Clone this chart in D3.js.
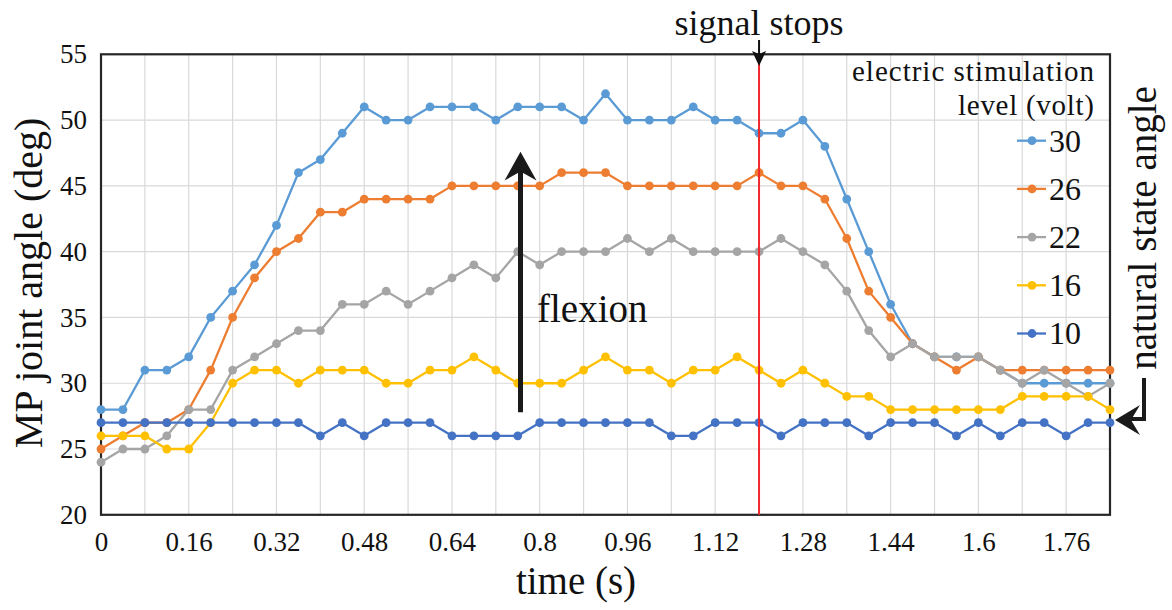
<!DOCTYPE html>
<html>
<head>
<meta charset="utf-8">
<script src="https://cdn.jsdelivr.net/npm/d3@7"></script>
<style>
  body { margin: 0; background: #fff; }
  svg text { font-family: "Liberation Serif", "Times New Roman", serif !important; fill: #111; }
</style>
</head>
<body>
<div id="chart"></div>
<script>
// time categories (s), one sample every 0.04 s
const times = [0, 0.04, 0.08, 0.12, 0.16, 0.2, 0.24, 0.28, 0.32, 0.36, 0.4, 0.44,
  0.48, 0.52, 0.56, 0.6, 0.64, 0.68, 0.72, 0.76, 0.8, 0.84, 0.88, 0.92, 0.96,
  1.0, 1.04, 1.08, 1.12, 1.16, 1.2, 1.24, 1.28, 1.32, 1.36, 1.4, 1.44, 1.48,
  1.52, 1.56, 1.6, 1.64, 1.68, 1.72, 1.76, 1.8, 1.84];
const gridTimes = [0, 0.08, 0.16, 0.24, 0.32, 0.4, 0.48, 0.56, 0.64, 0.72, 0.8,
  0.88, 0.96, 1.04, 1.12, 1.2, 1.28, 1.36, 1.44, 1.52, 1.6, 1.68, 1.76, 1.84];
const tickTimes = [0, 0.16, 0.32, 0.48, 0.64, 0.8, 0.96, 1.12, 1.28, 1.44, 1.6, 1.76];
const tickLabels = ["0", "0.16", "0.32", "0.48", "0.64", "0.8", "0.96", "1.12", "1.28", "1.44", "1.6", "1.76"];
const yTicks = [20, 25, 30, 35, 40, 45, 50, 55];

// MP joint angle (deg) per stimulation level (volt)
const levels = ["30", "26", "22", "16", "10"];
const angle30 = [28, 28, 31, 31, 32, 35, 37, 39, 42, 46, 47, 49, 51, 50, 50, 51, 51, 51, 50, 51, 51, 51, 50, 52,
  50, 50, 50, 51, 50, 50, 49, 49, 50, 48, 44, 40, 36, 33, 32, 32, 32, 31, 30, 30, 30, 30, 30];
const angle26 = [25, 26, 27, 27, 28, 31, 35, 38, 40, 41, 43, 43, 44, 44, 44, 44, 45, 45, 45, 45, 45, 46, 46, 46,
  45, 45, 45, 45, 45, 45, 46, 45, 45, 44, 41, 37, 35, 33, 32, 31, 32, 31, 31, 31, 31, 31, 31];
const angle22 = [24, 25, 25, 26, 28, 28, 31, 32, 33, 34, 34, 36, 36, 37, 36, 37, 38, 39, 38, 40, 39, 40, 40, 40,
  41, 40, 41, 40, 40, 40, 40, 41, 40, 39, 37, 34, 32, 33, 32, 32, 32, 31, 30, 31, 30, 29, 30];
const angle16 = [26, 26, 26, 25, 25, 27, 30, 31, 31, 30, 31, 31, 31, 30, 30, 31, 31, 32, 31, 30, 30, 30, 31, 32,
  31, 31, 30, 31, 31, 32, 31, 30, 31, 30, 29, 29, 28, 28, 28, 28, 28, 28, 29, 29, 29, 29, 28];
const angle10 = [27, 27, 27, 27, 27, 27, 27, 27, 27, 27, 26, 27, 26, 27, 27, 27, 26, 26, 26, 26, 27, 27, 27, 27,
  27, 27, 26, 26, 27, 27, 27, 26, 27, 27, 27, 26, 27, 27, 27, 26, 27, 26, 27, 27, 26, 27, 27];
const seriesValues = [angle30, angle26, angle22, angle16, angle10];
const colors = ["#5B9BD5", "#ED7D31", "#A5A5A5", "#FFC000", "#4472C4"];

const signalStop = 1.2;
const SERIF = "'Liberation Serif', 'Times New Roman', serif";

var width = 1172, height = 610;
var plot = { left: 101, right: 1110, top: 54.3, bottom: 514.8 };

var svg = d3.select("#chart")
  .append("svg")
  .attr("width", width)
  .attr("height", height)
  .style("font-family", SERIF);

var x = d3.scaleLinear().domain([0, 1.84]).range([plot.left, plot.right]);
var y = d3.scaleLinear().domain([20, 55]).range([plot.bottom, plot.top]);

function label(sel) {
  // force the serif face on every text
  return sel.style("font-family", SERIF).attr("fill", "#111");
}

// gridlines
svg.append("g")
  .selectAll("line")
  .data(gridTimes)
  .enter()
  .append("line")
  .attr("x1", (d) => x(d)).attr("x2", (d) => x(d))
  .attr("y1", plot.top).attr("y2", plot.bottom)
  .attr("stroke", "#D9D9D9").attr("stroke-width", 1.2);

svg.append("g")
  .selectAll("line")
  .data(yTicks)
  .enter()
  .append("line")
  .attr("x1", plot.left).attr("x2", plot.right)
  .attr("y1", (d) => y(d)).attr("y2", (d) => y(d))
  .attr("stroke", "#D9D9D9").attr("stroke-width", 1.2);

// axes
var yAxis = svg.append("g")
  .attr("transform", "translate(" + plot.left + ",0)")
  .call(d3.axisLeft(y).tickValues(yTicks).tickSize(0).tickPadding(14));
yAxis.attr("font-family", null);
yAxis.select(".domain").remove();
label(yAxis.selectAll("text")).attr("font-size", 27);

var xAxis = svg.append("g")
  .attr("transform", "translate(0," + plot.bottom + ")")
  .call(d3.axisBottom(x).tickValues(tickTimes).tickFormat((d, i) => tickLabels[i]).tickSize(0).tickPadding(17.5));
xAxis.attr("font-family", null);
xAxis.select(".domain").remove();
label(xAxis.selectAll("text")).attr("font-size", 27);

// plot border
svg.append("rect")
  .attr("x", plot.left).attr("y", plot.top)
  .attr("width", plot.right - plot.left)
  .attr("height", plot.bottom - plot.top)
  .attr("fill", "none")
  .attr("stroke", "#262626")
  .attr("stroke-width", 2.2);

// series lines and markers
var line = d3.line()
  .x((d, i) => x(times[i]))
  .y((d) => y(d));

seriesValues.forEach(function (values, s) {
  var g = svg.append("g").attr("class", "series-" + levels[s]);
  g.append("path")
    .datum(values)
    .attr("d", line)
    .attr("fill", "none")
    .attr("stroke", colors[s])
    .attr("stroke-width", 2.3)
    .attr("stroke-linejoin", "round");
  g.selectAll("circle")
    .data(values)
    .enter()
    .append("circle")
    .attr("cx", (d, i) => x(times[i]))
    .attr("cy", (d) => y(d))
    .attr("r", 4.4)
    .attr("fill", colors[s]);
});

// signal stops marker
svg.append("line")
  .attr("x1", x(signalStop)).attr("x2", x(signalStop))
  .attr("y1", plot.top).attr("y2", plot.bottom)
  .attr("stroke", "#F0282A")
  .attr("stroke-width", 2);

label(svg.append("text"))
  .attr("x", x(signalStop))
  .attr("y", 35)
  .attr("text-anchor", "middle")
  .attr("font-size", 36)
  .text("signal stops");

svg.append("line")
  .attr("x1", x(signalStop)).attr("x2", x(signalStop))
  .attr("y1", 40).attr("y2", 56)
  .attr("stroke", "#111").attr("stroke-width", 2);
svg.append("path")
  .attr("d", d3.line()([[x(signalStop), 66], [x(signalStop) - 7, 51], [x(signalStop), 54], [x(signalStop) + 7, 51]]) + "Z")
  .attr("fill", "#111");

// flexion arrow
var fx = x(0.765);
svg.append("line")
  .attr("x1", fx).attr("x2", fx)
  .attr("y1", y(27.8)).attr("y2", y(46.5))
  .attr("stroke", "#1a1a1a").attr("stroke-width", 5);
svg.append("path")
  .attr("d", d3.line()([[fx, y(47.6)], [fx - 16, y(45.4)], [fx, y(46.1)], [fx + 16, y(45.4)]]) + "Z")
  .attr("fill", "#1a1a1a");
label(svg.append("text"))
  .attr("x", 537)
  .attr("y", 322)
  .attr("font-size", 39)
  .text("flexion");

// legend
var legendX = 1094;
label(svg.append("text"))
  .attr("x", legendX).attr("y", 81)
  .attr("text-anchor", "end")
  .attr("font-size", 29)
  .attr("textLength", 242)
  .text("electric stimulation");
label(svg.append("text"))
  .attr("x", legendX).attr("y", 115)
  .attr("text-anchor", "end")
  .attr("font-size", 29)
  .attr("textLength", 136)
  .text("level (volt)");

var legend = svg.append("g")
  .selectAll("g")
  .data(levels)
  .enter()
  .append("g")
  .attr("transform", (d, i) => "translate(0," + (140.7 + i * 48.2) + ")");
legend.append("line")
  .attr("x1", 1017).attr("x2", 1046)
  .attr("stroke", (d, i) => colors[i])
  .attr("stroke-width", 2.3);
legend.append("circle")
  .attr("cx", 1032).attr("r", 4.4)
  .attr("fill", (d, i) => colors[i]);
label(legend.append("text"))
  .attr("x", 1049)
  .attr("dy", "0.34em")
  .attr("font-size", 32)
  .text((d) => d);

// natural state angle annotation
label(svg.append("text"))
  .attr("transform", "translate(1156,228) rotate(-90)")
  .attr("text-anchor", "middle")
  .attr("font-size", 39)
  .text("natural state angle");
svg.append("path")
  .attr("d", "M1144,378 V419 H1130")
  .attr("fill", "none")
  .attr("stroke", "#1a1a1a")
  .attr("stroke-width", 4);
svg.append("path")
  .attr("d", d3.line()([[1115, y(27.2)], [1140, y(27.2) - 15], [1131, y(27.2)], [1140, y(27.2) + 15]]) + "Z")
  .attr("fill", "#1a1a1a");

// axis titles
label(svg.append("text"))
  .attr("x", 576).attr("y", 594)
  .attr("text-anchor", "middle")
  .attr("font-size", 39)
  .text("time (s)");
label(svg.append("text"))
  .attr("transform", "translate(42,283) rotate(-90)")
  .attr("text-anchor", "middle")
  .attr("font-size", 40)
  .text("MP joint angle (deg)");
</script>
</body>
</html>
